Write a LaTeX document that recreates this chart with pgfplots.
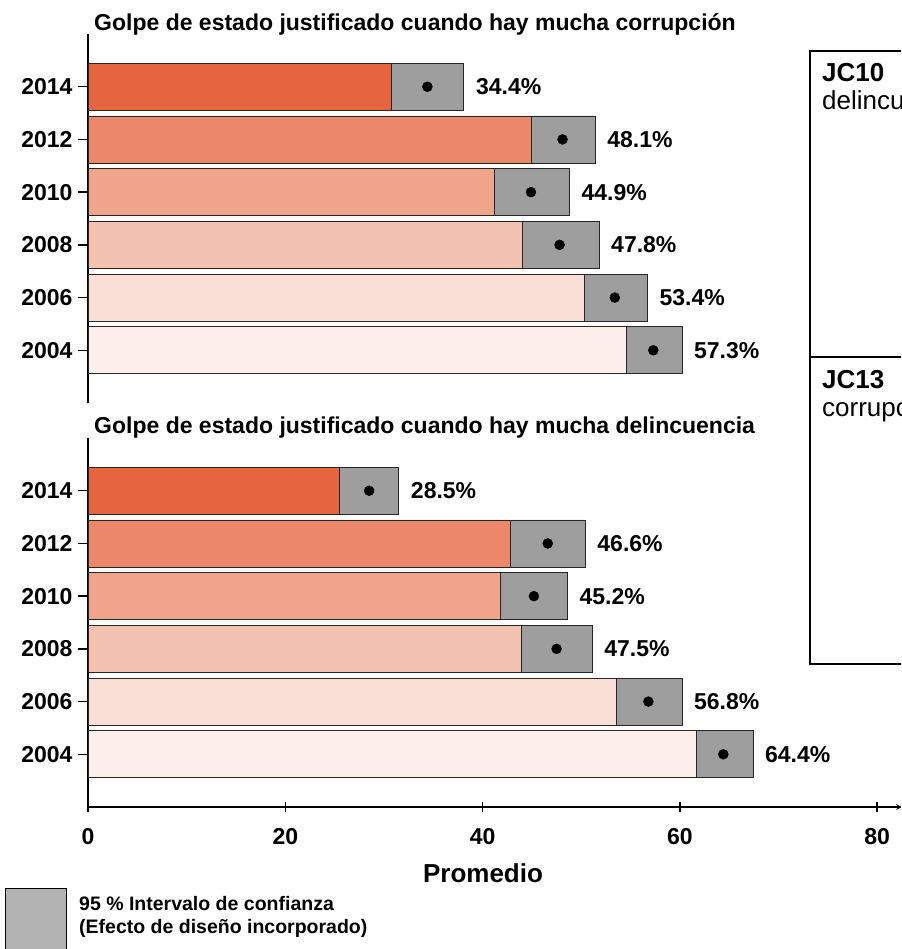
\documentclass[border=0pt]{standalone}
\usepackage{fontspec}
\setmainfont{Liberation Sans}
\usepackage{pgfplots}
\pgfplotsset{compat=1.18}

\definecolor{c2014}{HTML}{E6653F}
\definecolor{c2012}{HTML}{EC876A}
\definecolor{c2010}{HTML}{F0A48C}
\definecolor{c2008}{HTML}{F4C2B1}
\definecolor{c2006}{HTML}{F9DFD5}
\definecolor{c2004}{HTML}{FCEEEA}
\definecolor{cigrey}{HTML}{9E9E9E}
\definecolor{leggrey}{HTML}{B3B3B3}

\newcommand{\lblfont}{\bfseries\fontsize{23}{23}\selectfont}

\pgfplotsset{
  /pgf/number format/assume math mode=true,
  panel/.style={
    scale only axis,
    width=813.9pt, height=369pt,
    xmin=0, xmax=82.5, ymin=-1, ymax=6,
    axis y line=left,
    axis line style={-, line width=1.5pt},
    ytick={0,...,5},
    yticklabels={2004,2006,2008,2010,2012,2014},
    tick align=outside, major tick length=10pt,
    tick style={black, line width=1.5pt},
    ticklabel style={font=\lblfont},
    yticklabel style={xshift=-2pt},
    xticklabel style={yshift=-13pt},
    clip=false,
  },
  bar/.style={xbar, bar width=47pt, bar shift=0pt, draw=black!85, line width=0.8pt},
  dots/.style={only marks, mark=*, mark size=5pt, black},
  pct/.style={draw=none, point meta=explicit,
    nodes near coords={\pgfmathprintnumber[fixed,fixed zerofill,precision=1]{\pgfplotspointmeta}\%},
    nodes near coords style={anchor=west, xshift=12pt, font=\lblfont, inner sep=0pt}},
}

\begin{document}
\begin{tikzpicture}
\useasboundingbox (0pt,0pt) rectangle (901pt,-949pt);
\clip (0pt,0pt) rectangle (901pt,-949pt);

% panel 1: corrupcion
\begin{axis}[panel, at={(88pt,-403pt)}, anchor=south west, axis x line=none, xtick=\empty]
  % upper end of the 95% interval
  \addplot[bar, fill=cigrey] coordinates {(60.2,0) (56.7,1) (51.8,2) (48.8,3) (51.4,4) (38.1,5)};
  % lower end of the interval
  \addplot[bar, fill=c2004] coordinates {(54.6,0)};
  \addplot[bar, fill=c2006] coordinates {(50.3,1)};
  \addplot[bar, fill=c2008] coordinates {(44.0,2)};
  \addplot[bar, fill=c2010] coordinates {(41.2,3)};
  \addplot[bar, fill=c2012] coordinates {(44.9,4)};
  \addplot[bar, fill=c2014] coordinates {(30.8,5)};
  % mean
  \addplot[dots] coordinates {(57.3,0) (53.4,1) (47.8,2) (44.9,3) (48.1,4) (34.4,5)};
  \addplot[pct] coordinates {(60.2,0) [57.3] (56.7,1) [53.4] (51.8,2) [47.8]
                             (48.8,3) [44.9] (51.4,4) [48.1] (38.1,5) [34.4]};
\end{axis}

% panel 2: delincuencia
\begin{axis}[panel, at={(88pt,-807pt)}, anchor=south west, axis x line=bottom,
             xtick={0,20,40,60,80}]
  \addplot[bar, fill=cigrey] coordinates {(67.4,0) (60.2,1) (51.1,2) (48.6,3) (50.4,4) (31.5,5)};
  \addplot[bar, fill=c2004] coordinates {(61.7,0)};
  \addplot[bar, fill=c2006] coordinates {(53.6,1)};
  \addplot[bar, fill=c2008] coordinates {(43.9,2)};
  \addplot[bar, fill=c2010] coordinates {(41.8,3)};
  \addplot[bar, fill=c2012] coordinates {(42.8,4)};
  \addplot[bar, fill=c2014] coordinates {(25.5,5)};
  \addplot[dots] coordinates {(64.4,0) (56.8,1) (47.5,2) (45.2,3) (46.6,4) (28.5,5)};
  \addplot[pct] coordinates {(67.4,0) [64.4] (60.2,1) [56.8] (51.1,2) [47.5]
                             (48.6,3) [45.2] (50.4,4) [46.6] (31.5,5) [28.5]};
\end{axis}

\begin{scope}[x=1pt, y=-1pt]
% titles and axis label
\node[anchor=base west, font=\bfseries\fontsize{23}{23}\selectfont, inner sep=0pt]
  at (94,31) {Golpe de estado justificado cuando hay mucha corrupción};
\node[anchor=base west, font=\bfseries\fontsize{23}{23}\selectfont, inner sep=0pt]
  at (94,433) {Golpe de estado justificado cuando hay mucha delincuencia};
\node[anchor=base, font=\bfseries\fontsize{26}{26}\selectfont, inner sep=0pt] at (483,882) {Promedio};

% question box on the right
\draw[line width=1.8pt] (810,51) rectangle (980,664);
\draw[line width=1.8pt] (810,357) -- (980,357);
\node[anchor=base west, inner sep=0pt, font=\fontsize{26}{26}\selectfont] at (822,82) {\textbf{JC10}};
\node[anchor=base west, inner sep=0pt, font=\fontsize{26}{26}\selectfont] at (822,110) {delincuencia};
\node[anchor=base west, inner sep=0pt, font=\fontsize{26}{26}\selectfont] at (822,388) {\textbf{JC13}};
\node[anchor=base west, inner sep=0pt, font=\fontsize{26}{26}\selectfont] at (822,416) {corrupción};

% legend
\draw[fill=leggrey, line width=1pt] (5,888) rectangle (66,970);
\node[anchor=base west, inner sep=0pt, font=\bfseries\fontsize{19.5}{19.5}\selectfont] at (79,910) {95 \% Intervalo de confianza};
\node[anchor=base west, inner sep=0pt, font=\bfseries\fontsize{19.5}{19.5}\selectfont] at (79,933) {(Efecto de diseño incorporado)};
\end{scope}
\end{tikzpicture}
\end{document}
